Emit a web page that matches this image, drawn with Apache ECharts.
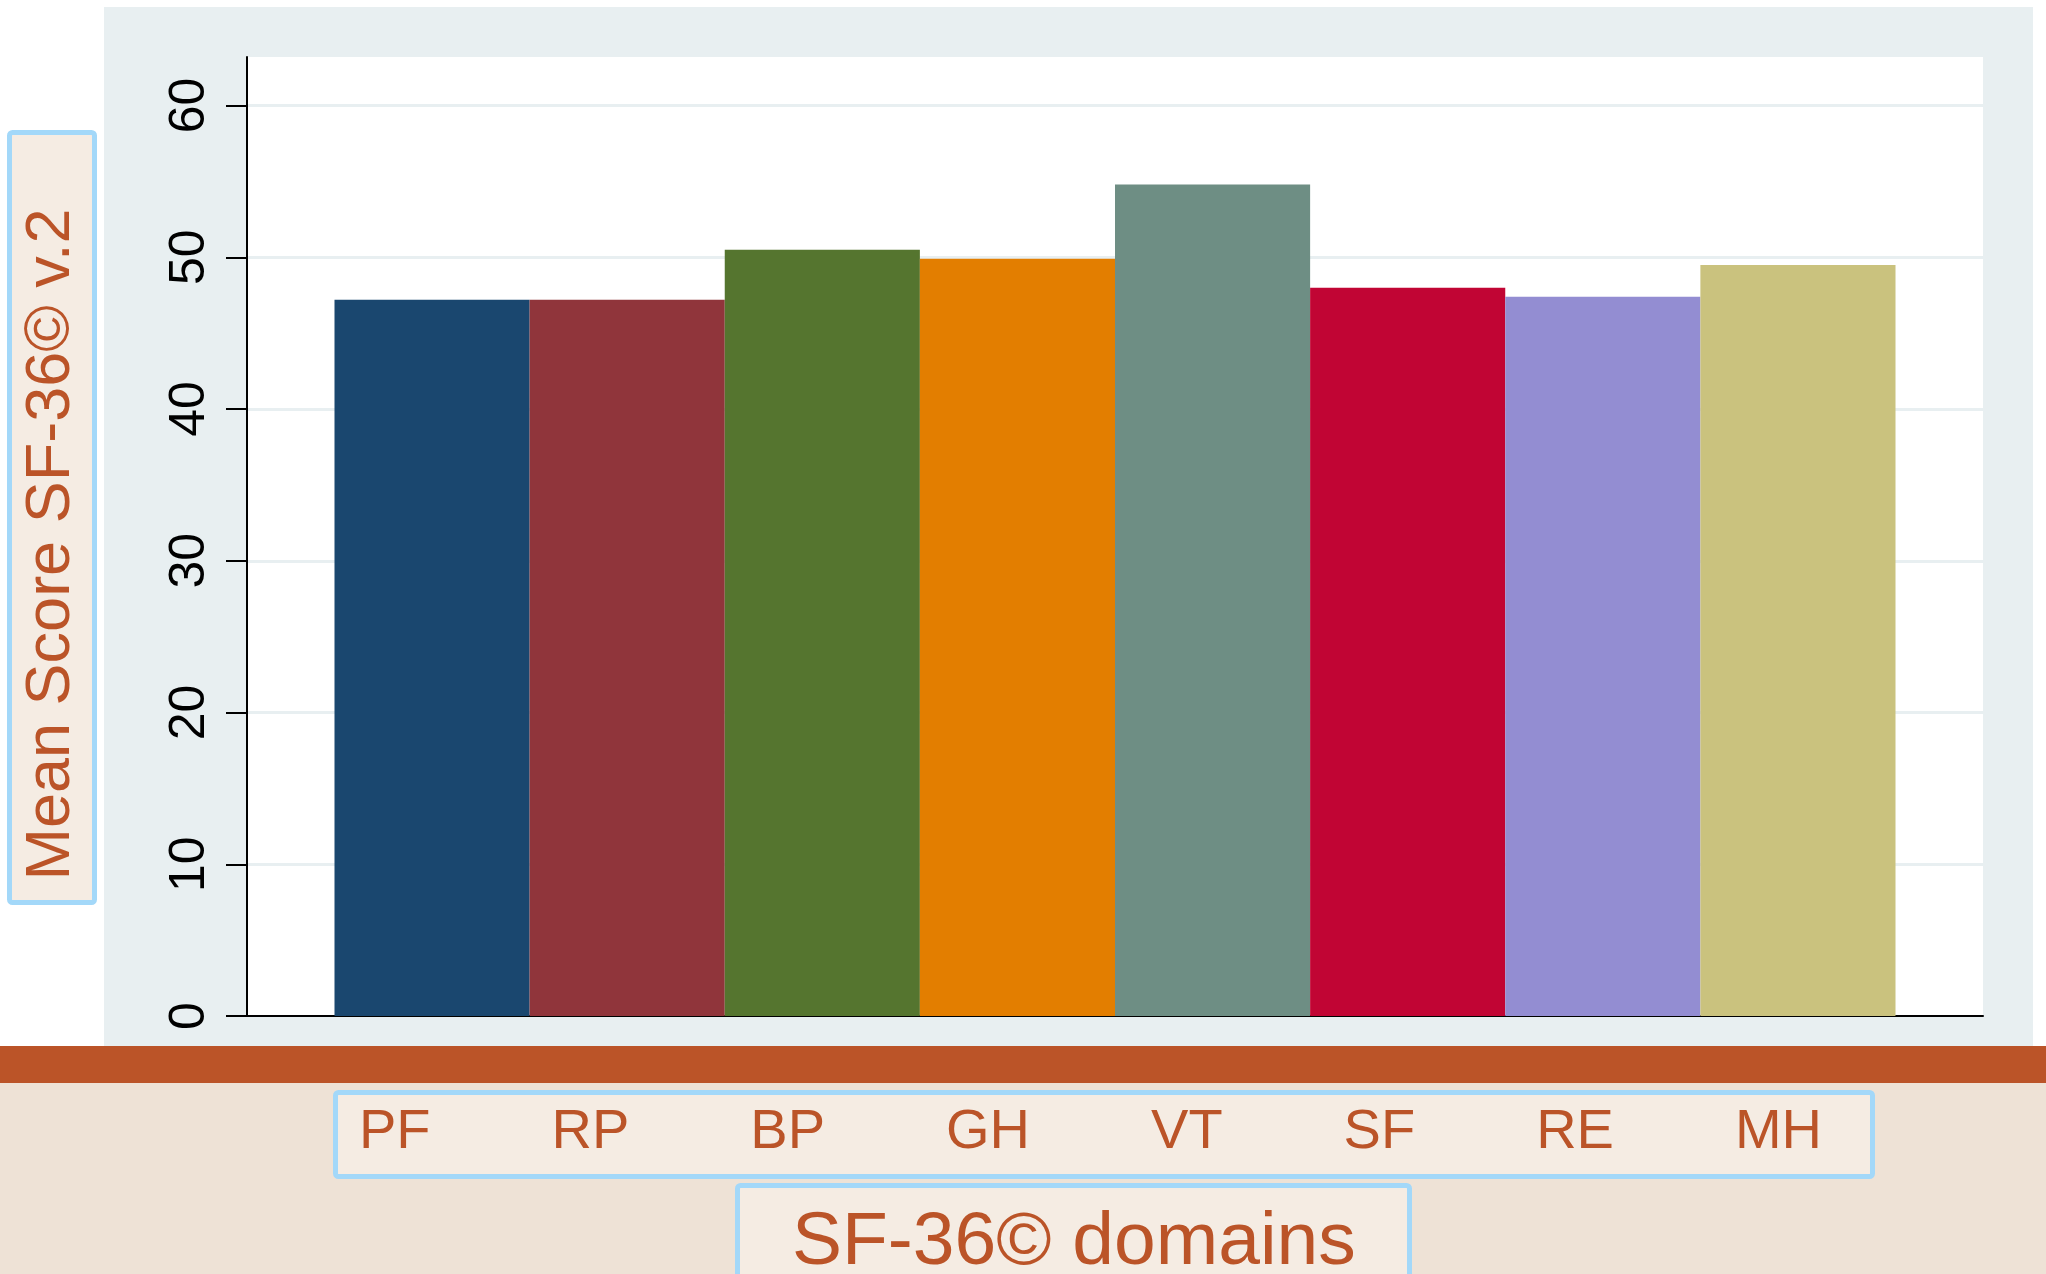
<!DOCTYPE html>
<html><head><meta charset="utf-8">
<script src="https://cdn.jsdelivr.net/npm/echarts@6/dist/echarts.min.js"></script>
<style>html,body{margin:0;padding:0;background:#fff}#c{width:2046px;height:1274px}</style>
</head><body><div id="c"></div>
<script>
const domains = ['PF', 'RP', 'BP', 'GH', 'VT', 'SF', 'RE', 'MH'];
const meanScores = [47.2, 47.2, 50.5, 49.9, 54.8, 48.0, 47.4, 49.5];
const barColors = ['#1a476f', '#90353b', '#55752f', '#e37e00', '#6e8e84', '#c10534', '#938dd2', '#cac27e'];
const yTicks = [0, 10, 20, 30, 40, 50, 60];
const yTitle = 'Mean Score SF-36\u00a9 v.2';
const xTitle = 'SF-36\u00a9 domains';

const orange = '#bb5428';
const boxFill = '#f5ece3';
const boxLine = '#a3d8f9';
const FONT = 'Liberation Sans, Arial, sans-serif';

const chart = echarts.init(document.getElementById('c'), null, {renderer: 'canvas'});

const series = domains.map((d, i) => ({
  name: d,
  type: 'bar',
  data: [meanScores[i]],
  itemStyle: {color: barColors[i]},
  barGap: '0%',
  barCategoryGap: '10.08%',
  emphasis: {disabled: true},
  animation: false
}));

chart.setOption({
  backgroundColor: '#ffffff',
  animation: false,
  graphic: [
    {type: 'rect', z: -20, shape: {x: 104, y: 7, width: 1929, height: 1039}, style: {fill: '#e8eff1'}, silent: true},
    {type: 'rect', z: -20, shape: {x: 0, y: 1046, width: 2046, height: 37}, style: {fill: orange}, silent: true},
    {type: 'rect', z: -20, shape: {x: 0, y: 1083, width: 2046, height: 191}, style: {fill: '#eee2d6'}, silent: true},
    {type: 'rect', z: -15, shape: {x: 9.5, y: 132.5, width: 85, height: 770, r: 3}, style: {fill: boxFill, stroke: boxLine, lineWidth: 5}, silent: true},
    {type: 'rect', z: -15, shape: {x: 335.5, y: 1092.5, width: 1537, height: 84, r: 3}, style: {fill: boxFill, stroke: boxLine, lineWidth: 5}, silent: true},
    {type: 'rect', z: -15, shape: {x: 737.5, y: 1185.5, width: 672, height: 130, r: 3}, style: {fill: boxFill, stroke: boxLine, lineWidth: 5}, silent: true}
  ],
  title: {
    text: xTitle,
    left: 792,
    top: 1206,
    padding: 0,
    textStyle: {color: orange, fontSize: 75, fontWeight: 'normal', fontFamily: FONT}
  },
  legend: {
    data: domains,
    icon: 'none',
    itemWidth: 0,
    itemHeight: 56,
    itemGap: 116,
    left: 354,
    top: 1105,
    padding: 0,
    selectedMode: false,
    textStyle: {color: orange, fontSize: 56, fontFamily: FONT}
  },
  grid: {
    left: 247, top: 57, right: 63, bottom: 258,
    show: true, backgroundColor: '#ffffff', borderWidth: 0,
    containLabel: false,
    outerBoundsMode: 'none'
  },
  xAxis: {
    type: 'category',
    data: [''],
    axisLine: {show: true, lineStyle: {color: '#000', width: 2}},
    axisTick: {show: false},
    axisLabel: {show: false},
    splitLine: {show: false}
  },
  yAxis: {
    type: 'value',
    min: 0,
    max: 63.2,
    interval: 10,
    name: yTitle,
    nameLocation: 'middle',
    nameGap: 164,
    nameRotate: 90,
    nameTextStyle: {color: orange, fontSize: 63, fontFamily: FONT, padding: [0, 16, 0, 0]},
    axisLine: {show: true, lineStyle: {color: '#000', width: 2}},
    axisTick: {show: true, length: 21, lineStyle: {color: '#000', width: 2}, customValues: yTicks},
    axisLabel: {
      rotate: 90, margin: 32, color: '#000', fontSize: 50, fontFamily: FONT,
      customValues: yTicks
    },
    splitLine: {show: true, lineStyle: {color: '#e8eff1', width: 3}}
  },
  series: series
});
</script>
</body></html>
